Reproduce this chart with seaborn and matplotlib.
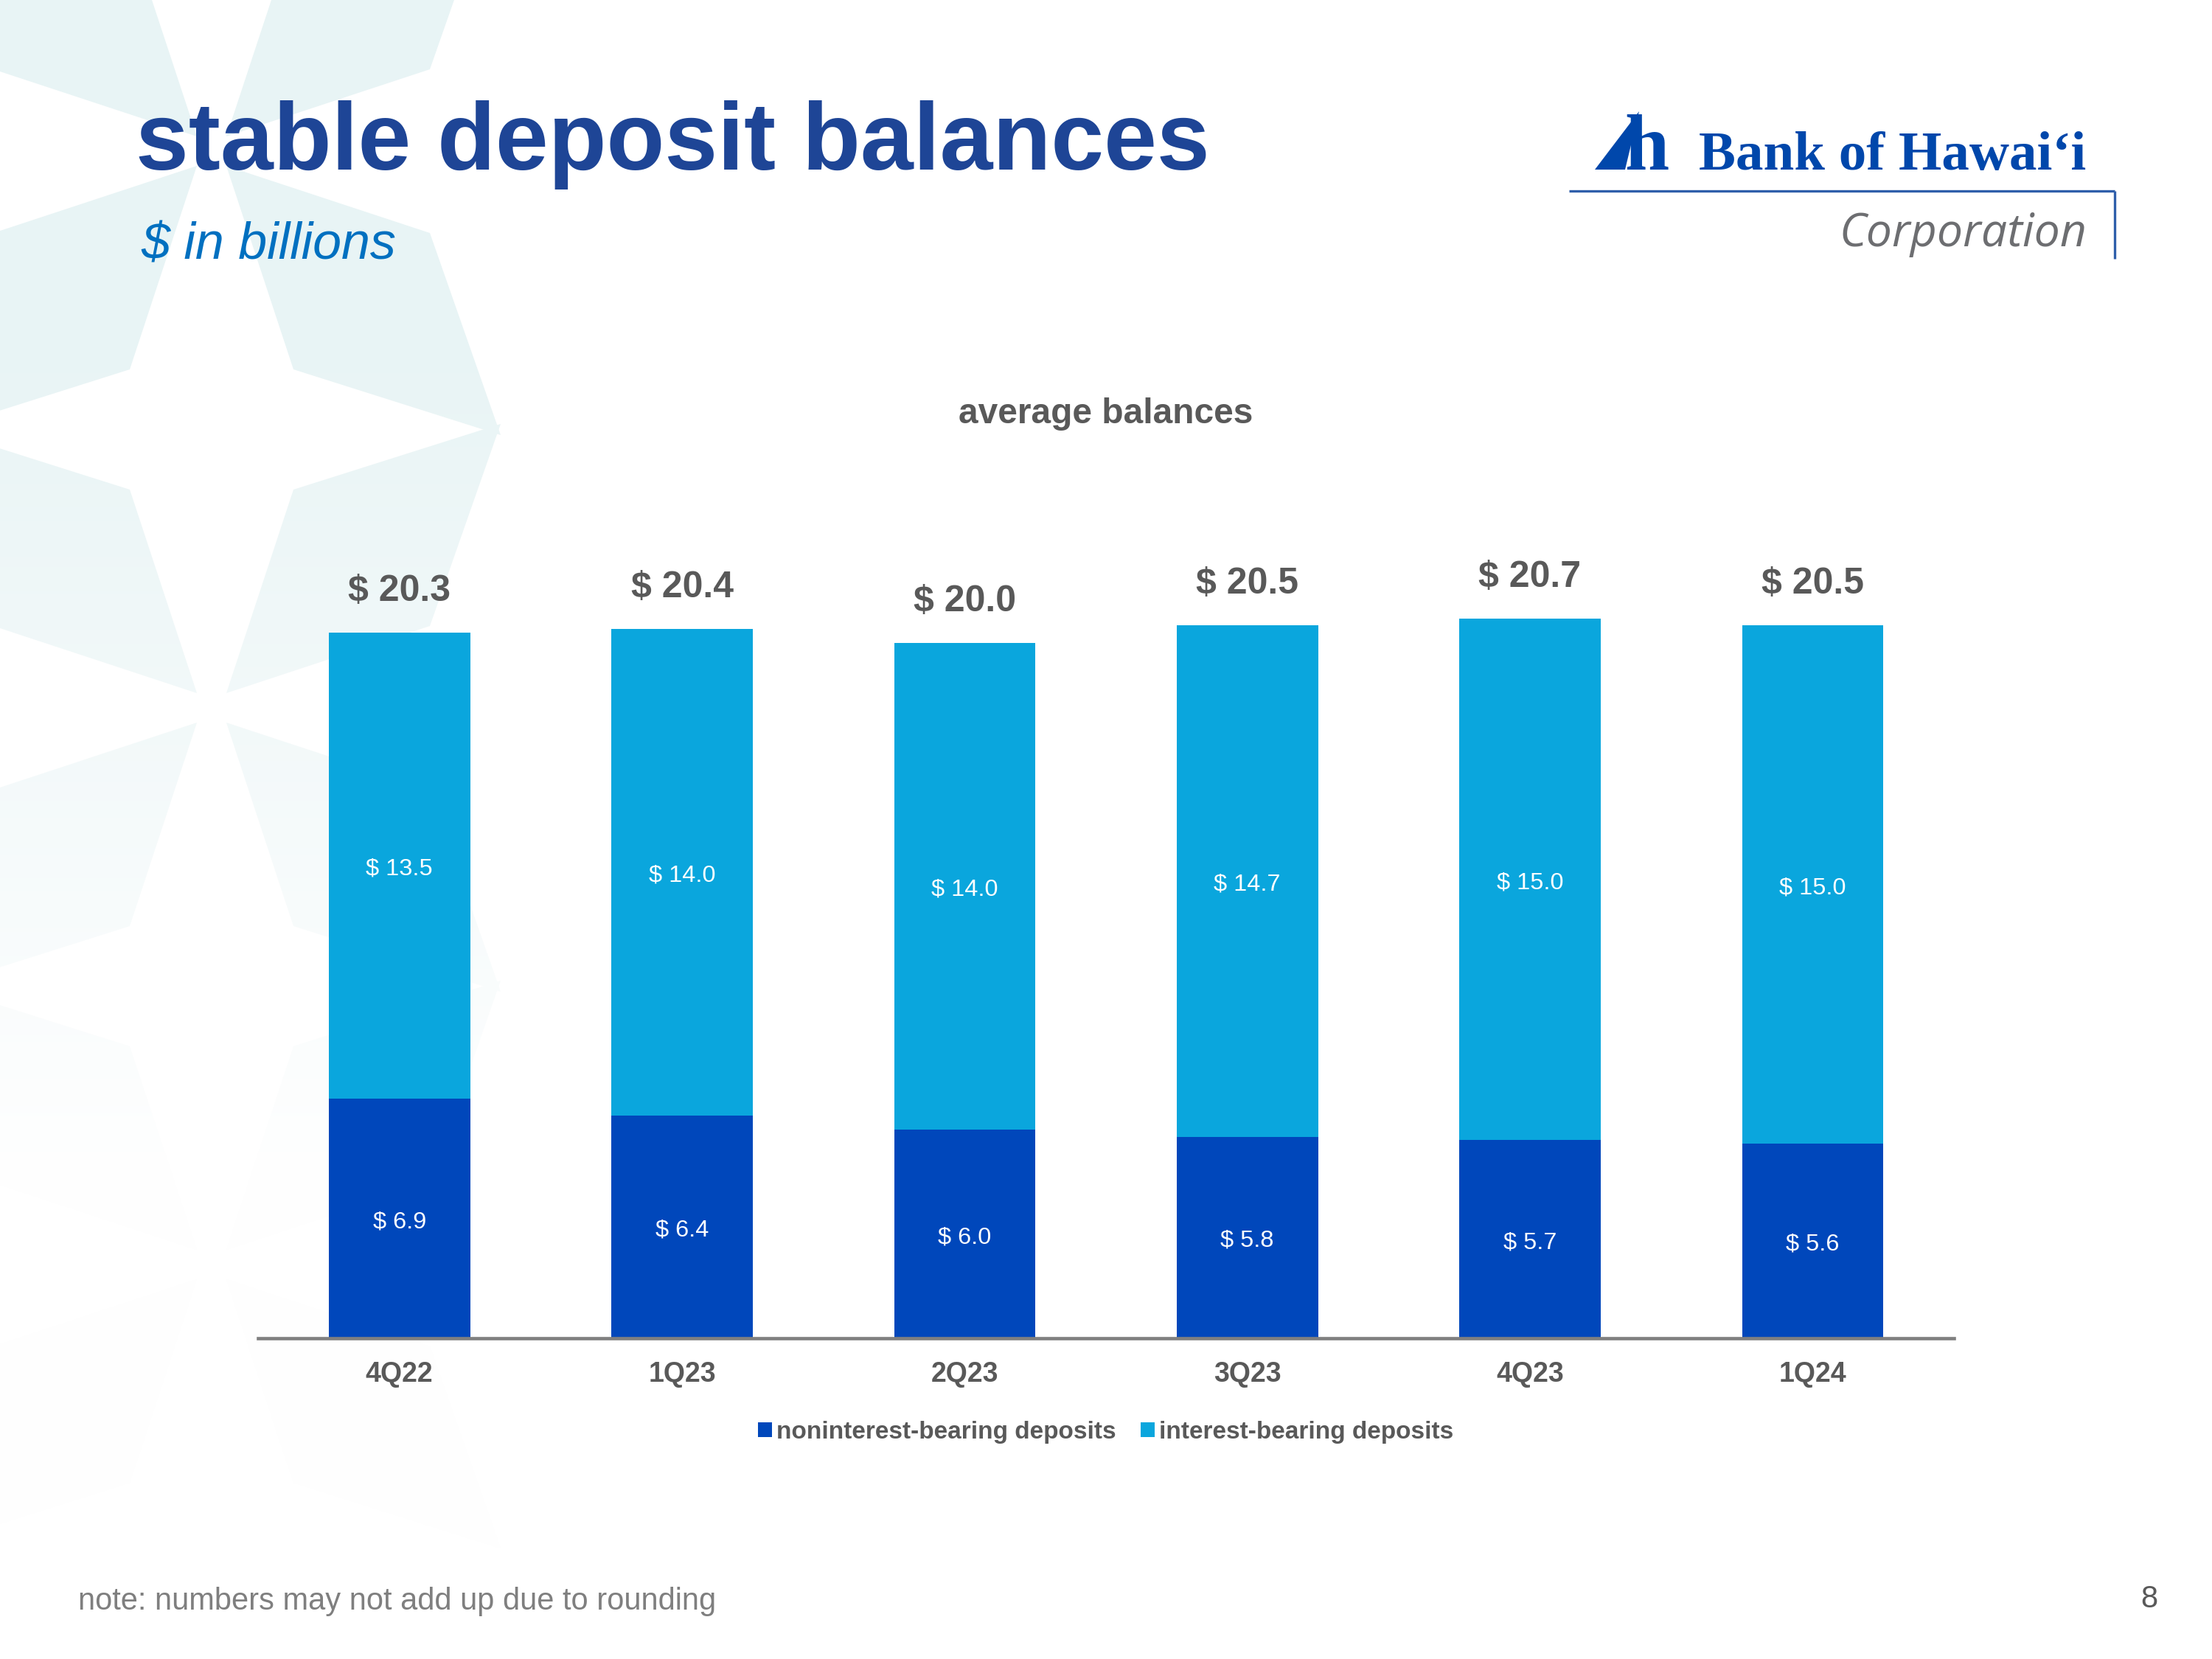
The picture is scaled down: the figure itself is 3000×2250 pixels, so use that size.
import numpy as np
import pandas as pd
import matplotlib
matplotlib.use("Agg")
import matplotlib.pyplot as plt
from matplotlib.patches import Polygon, Patch
import seaborn as sns

# ---------------- data ----------------
quarters = ["4Q22", "1Q23", "2Q23", "3Q23", "4Q23", "1Q24"]
noninterest = [6.9, 6.4, 6.0, 5.8, 5.7, 5.6]
interest = [13.5, 14.0, 14.0, 14.7, 15.0, 15.0]
totals = [20.3, 20.4, 20.0, 20.5, 20.7, 20.5]

series_names = ["noninterest-bearing deposits", "interest-bearing deposits"]
title_text = "stable deposit balances"
subtitle_text = "$ in billions"
chart_title = "average balances"
note_text = "note: numbers may not add up due to rounding"
page_no = "8"

DARK = "#0047BB"
LIGHT = "#0AA6DD"
GRAY = "#595959"

sns.set_theme(style="white")
plt.rcParams["font.family"] = ["Liberation Sans", "DejaVu Sans"]

W, H = 3000, 2250
fig = plt.figure(figsize=(10, 7.5), dpi=300, facecolor="white")

# ---------------- background decoration (pixel coordinates) ----------------
bg = fig.add_axes([0, 0, 1, 1], zorder=-1)
bg.set_xlim(0, W)
bg.set_ylim(H, 0)
bg.axis("off")

cx = 287
for cy in [205 - 755, 205, 960, 1715]:
    for sx in (-1, 1):
        for sy in (-1, 1):
            pts = [(cx + sx * 20, cy + sy * 20),
                   (cx + sx * 296, cy + sy * 111),
                   (cx + sx * 392, cy + sy * 385),
                   (cx + sx * 111, cy + sy * 296)]
            bg.add_patch(Polygon(pts, closed=True, facecolor="#E8F4F5",
                                 edgecolor="none", zorder=1))
yy = np.linspace(0, 1, 400)[:, None]
alpha = np.clip((yy - 0.2) / 0.5, 0, 1) * 0.97
grad = np.ones((400, 1, 4))
grad[..., 3] = alpha
bg.imshow(grad, extent=(0, W, H, 0), aspect="auto", zorder=2, interpolation="bilinear")
bg.set_xlim(0, W)
bg.set_ylim(H, 0)

# titles
bg.text(184, 230, title_text, fontsize=31, fontweight="bold", color="#1E4596",
        ha="left", va="baseline", zorder=5)
bg.text(191, 352, subtitle_text, fontsize=16.8, fontstyle="italic", color="#0070C0",
        ha="left", va="baseline", zorder=5)
bg.text(1500, 574, chart_title, fontsize=11.5, fontweight="bold", color=GRAY,
        ha="center", va="baseline", zorder=5)

# logo
bg.add_patch(Polygon([(2163, 230), (2204, 230), (2223, 151)], closed=True,
                     facecolor="#0047AB", edgecolor="none", zorder=5))
bg.text(2203, 230, "h", fontsize=26, fontweight="bold", color="#0047AB",
        family=["Liberation Serif", "DejaVu Serif"], ha="left", va="baseline", zorder=5)
bg.text(2304, 230, "Bank of Hawaiʻi", fontsize=18, fontweight="bold", color="#0047AB",
        family=["Liberation Serif", "DejaVu Serif"], ha="left", va="baseline", zorder=5)
bg.plot([2128, 2868], [259, 259], color="#2F5EAA", lw=0.8, zorder=5, solid_capstyle="butt")
bg.plot([2868, 2868], [259, 351], color="#2F5EAA", lw=0.8, zorder=5, solid_capstyle="butt")
bg.text(2830, 334, "Corporation", fontsize=15, fontstyle="italic", color="#6D6E71",
        family=["Open Sans", "DejaVu Sans"], ha="right", va="baseline", zorder=5)

# footer
bg.text(106, 2183, note_text, fontsize=10, color="#7F7F7F", ha="left", va="baseline", zorder=5)
bg.text(2926, 2180, page_no, fontsize=10, color=GRAY, ha="right", va="baseline", zorder=5)

# ---------------- chart ----------------
ax = fig.add_axes([350 / W, 1 - 1815 / H, 2300 / W, 25 * 47.15 / H], zorder=1)
ax.set_facecolor("none")

df = pd.DataFrame({"quarter": quarters, "total": totals, "noninterest": noninterest,
                   "interest": interest})

sns.barplot(data=df, x="quarter", y="total", order=quarters, color=LIGHT,
            saturation=1, width=0.5, errorbar=None, ax=ax, linewidth=0)
sns.barplot(data=df, x="quarter", y="noninterest", order=quarters, color=DARK,
            saturation=1, width=0.5, errorbar=None, ax=ax, linewidth=0)

ax.set_xlim(-0.5, 5.5)
ax.set_ylim(0, 25)
ax.set_xlabel("")
ax.set_ylabel("")
ax.set_yticks([])
for side in ["top", "right", "left"]:
    ax.spines[side].set_visible(False)
ax.spines["bottom"].set_color("#7F7F7F")
ax.spines["bottom"].set_linewidth(1.1)
ax.tick_params(axis="x", length=0, pad=7.5, labelsize=9, labelcolor=GRAY)
for lab in ax.get_xticklabels():
    lab.set_fontweight("bold")

for i in range(len(quarters)):
    ax.text(i, noninterest[i] / 2 - 0.1, f"$ {noninterest[i]:.1f}", ha="center", va="center",
            color="white", fontsize=7.8)
    ax.text(i, (noninterest[i] + totals[i]) / 2 - 0.1, f"$ {interest[i]:.1f}", ha="center",
            va="center", color="white", fontsize=7.8)
    ax.annotate(f"$ {totals[i]:.1f}", xy=(i, totals[i]), xytext=(0, 13.5),
                textcoords="offset points", ha="center", va="center",
                fontsize=12, fontweight="bold", color=GRAY)

handles = [Patch(facecolor=DARK, edgecolor="none"), Patch(facecolor=LIGHT, edgecolor="none")]
leg = fig.legend(handles, series_names, loc="center", bbox_to_anchor=(0.5, 1 - 1942 / H),
                 ncol=2, frameon=False, fontsize=8, handlelength=0.55, handleheight=0.55,
                 handletextpad=0.2, columnspacing=1.0)
for t in leg.get_texts():
    t.set_fontweight("bold")
    t.set_color(GRAY)

fig.savefig("out.png", dpi=300, facecolor="white")
